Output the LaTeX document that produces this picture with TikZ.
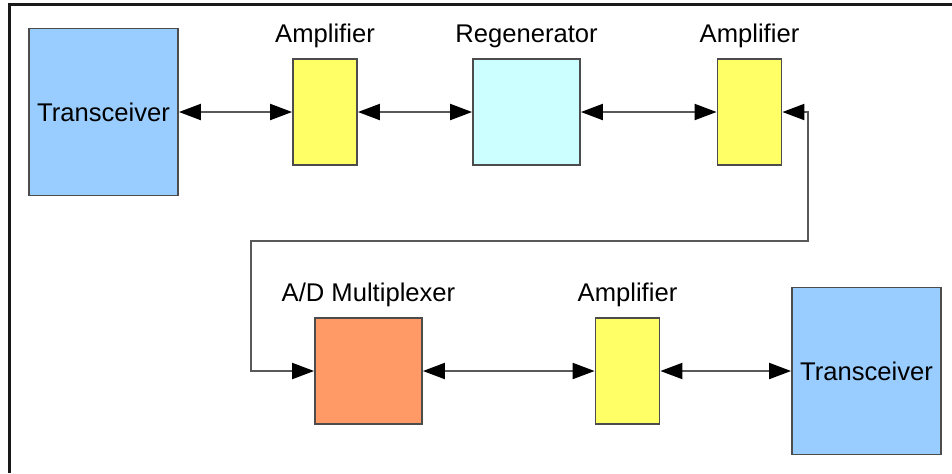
\documentclass[tikz,border=0pt]{standalone}
\usepackage{fontspec}
\setmainfont{Liberation Sans}
\usetikzlibrary{arrows.meta,positioning}

\begin{document}
\begin{tikzpicture}[x=0.5pt,y=-0.5pt,
    block/.style={draw=black!70,line width=0.9pt,inner sep=0pt,
        font=\fontsize{12.8}{15}\selectfont},
    trx/.style={block,fill=transblue,minimum width=74.5pt,minimum height=83.5pt},
    amp/.style={block,fill=ampyellow,minimum width=32pt,minimum height=53pt},
    wide/.style={block,minimum width=53.5pt,minimum height=53pt},
    tag/.style={label distance=1.5pt,font=\fontsize{12.8}{15}\selectfont},
    link/.style={draw=black!65,line width=1pt,
        {Triangle[length=11pt,width=8pt,color=black]}-{Triangle[length=11pt,width=8pt,color=black]}}]

    \definecolor{transblue}{HTML}{99CCFF}
    \definecolor{ampyellow}{HTML}{FFFF66}
    \definecolor{regencyan}{HTML}{CCFFFF}
    \definecolor{muxorange}{HTML}{FF9966}

    \useasboundingbox (0,0) rectangle (952,473);
    \draw [line width=1.5pt,black!90] (9,473) -- (9,4) -- (952,4);

    \node [trx] (trxa) at (103.5,112) {Transceiver};
    \node [amp,label={[tag]above:Amplifier}] (ampa) at (325,112) {};
    \node [wide,fill=regencyan,label={[tag]above:Regenerator}] (regen) at (526.5,112) {};
    \node [amp,label={[tag]above:Amplifier}] (ampb) at (749.5,112) {};

    \node [wide,fill=muxorange,label={[tag]above:A/D Multiplexer}] (admux) at (368.5,371) {};
    \node [amp,label={[tag]above:Amplifier}] (ampc) at (627.5,371) {};
    \node [trx] (trxb) at (866.5,371) {Transceiver};

    \coordinate (loopa) at (808,241);
    \coordinate (loopb) at (251,241);

    \draw [link] (trxa) -- (ampa);
    \draw [link] (ampa) -- (regen);
    \draw [link] (regen) -- (ampb);
    \draw [link] (ampb.east) -| (loopa) -- (loopb) |- (admux.west);
    \draw [link] (admux) -- (ampc);
    \draw [link] (ampc) -- (trxb);

\end{tikzpicture}
\end{document}
